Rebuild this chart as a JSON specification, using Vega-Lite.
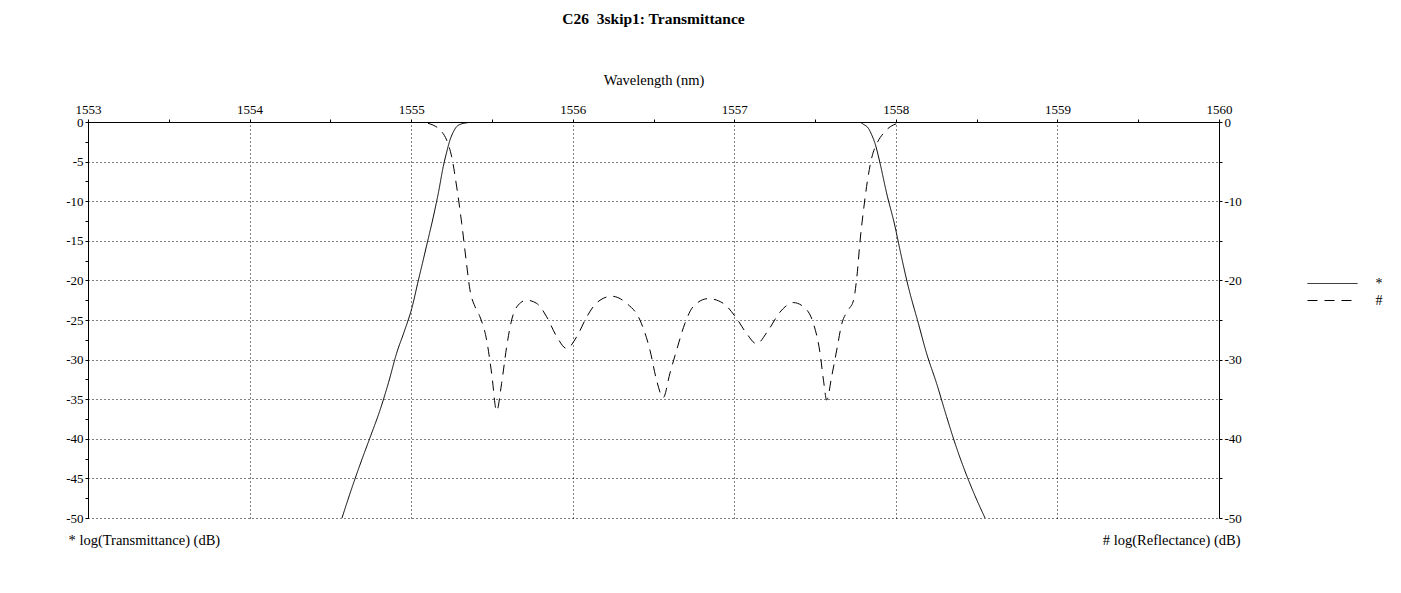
{
  "$schema": "https://vega.github.io/schema/vega-lite/v6.json",
  "width": 1131,
  "height": 396,
  "autosize": {"type": "none"},
  "padding": {"left": 88, "top": 122, "right": 182, "bottom": 75},
  "background": "white",
  "title": {"text": "C26\u00a0 3skip1: Transmittance", "font": "Liberation Serif", "fontSize": 15.5, "fontWeight": "bold", "color": "black", "anchor": "middle", "offset": 45},
  "config": {
    "font": "Liberation Serif",
    "view": {"stroke": null},
    "axis": {"domainColor": "black", "tickColor": "black", "labelColor": "black", "titleColor": "black", "labelFont": "Liberation Serif", "titleFont": "Liberation Serif", "labelFontSize": 13, "titleFontSize": 14.5, "titleFontWeight": "normal", "labelOverlap": false, "labelFlush": false, "labelBound": false, "gridColor": "black", "gridDash": [1, 3], "gridWidth": 1, "tickSize": 3}
  },
  "datasets": {
    "T": [
      {"wl": 1554.572, "db": -50, "s": "*"},
      {"wl": 1554.62, "db": -47.0, "s": "*"},
      {"wl": 1554.683, "db": -43.3, "s": "*"},
      {"wl": 1554.75, "db": -39.6, "s": "*"},
      {"wl": 1554.807, "db": -36.4, "s": "*"},
      {"wl": 1554.86, "db": -32.9, "s": "*"},
      {"wl": 1554.91, "db": -29.2, "s": "*"},
      {"wl": 1554.96, "db": -26.3, "s": "*"},
      {"wl": 1555.007, "db": -23.3, "s": "*"},
      {"wl": 1555.04, "db": -20.4, "s": "*"},
      {"wl": 1555.075, "db": -17.4, "s": "*"},
      {"wl": 1555.105, "db": -14.8, "s": "*"},
      {"wl": 1555.137, "db": -12.0, "s": "*"},
      {"wl": 1555.17, "db": -8.8, "s": "*"},
      {"wl": 1555.199, "db": -5.6, "s": "*"},
      {"wl": 1555.22, "db": -3.8, "s": "*"},
      {"wl": 1555.24, "db": -2.3, "s": "*"},
      {"wl": 1555.26, "db": -1.3, "s": "*"},
      {"wl": 1555.281, "db": -0.6, "s": "*"},
      {"wl": 1555.31, "db": -0.25, "s": "*"},
      {"wl": 1555.343, "db": -0.1, "s": "*"},
      {"wl": 1555.4, "db": 0, "s": "*"},
      {"wl": 1556.0, "db": 0, "s": "*"},
      {"wl": 1557.0, "db": 0, "s": "*"},
      {"wl": 1557.7, "db": 0, "s": "*"},
      {"wl": 1557.778, "db": -0.05, "s": "*"},
      {"wl": 1557.8, "db": -0.3, "s": "*"},
      {"wl": 1557.83, "db": -0.8, "s": "*"},
      {"wl": 1557.85, "db": -1.6, "s": "*"},
      {"wl": 1557.871, "db": -2.7, "s": "*"},
      {"wl": 1557.902, "db": -5.2, "s": "*"},
      {"wl": 1557.943, "db": -9.0, "s": "*"},
      {"wl": 1557.995, "db": -13.2, "s": "*"},
      {"wl": 1558.026, "db": -16.2, "s": "*"},
      {"wl": 1558.077, "db": -20.8, "s": "*"},
      {"wl": 1558.139, "db": -25.4, "s": "*"},
      {"wl": 1558.19, "db": -29.2, "s": "*"},
      {"wl": 1558.252, "db": -33.0, "s": "*"},
      {"wl": 1558.314, "db": -37.2, "s": "*"},
      {"wl": 1558.37, "db": -40.8, "s": "*"},
      {"wl": 1558.43, "db": -44.2, "s": "*"},
      {"wl": 1558.49, "db": -47.2, "s": "*"},
      {"wl": 1558.552, "db": -50, "s": "*"}
    ],
    "R": [
      {"wl": 1555.0, "db": 0, "s": "#"},
      {"wl": 1555.055, "db": -0.02, "s": "#"},
      {"wl": 1555.1, "db": -0.15, "s": "#"},
      {"wl": 1555.137, "db": -0.4, "s": "#"},
      {"wl": 1555.179, "db": -1.0, "s": "#"},
      {"wl": 1555.22, "db": -2.3, "s": "#"},
      {"wl": 1555.251, "db": -4.4, "s": "#"},
      {"wl": 1555.282, "db": -8.2, "s": "#"},
      {"wl": 1555.313, "db": -12.8, "s": "#"},
      {"wl": 1555.34, "db": -17.4, "s": "#"},
      {"wl": 1555.364, "db": -21.2, "s": "#"},
      {"wl": 1555.395, "db": -23.3, "s": "#"},
      {"wl": 1555.426, "db": -24.6, "s": "#"},
      {"wl": 1555.467, "db": -27.5, "s": "#"},
      {"wl": 1555.498, "db": -31.7, "s": "#"},
      {"wl": 1555.529, "db": -36.5, "s": "#"},
      {"wl": 1555.56, "db": -33.0, "s": "#"},
      {"wl": 1555.591, "db": -28.4, "s": "#"},
      {"wl": 1555.622, "db": -25.0, "s": "#"},
      {"wl": 1555.663, "db": -23.1, "s": "#"},
      {"wl": 1555.715, "db": -22.5, "s": "#"},
      {"wl": 1555.777, "db": -22.9, "s": "#"},
      {"wl": 1555.839, "db": -24.6, "s": "#"},
      {"wl": 1555.901, "db": -27.1, "s": "#"},
      {"wl": 1555.963, "db": -28.6, "s": "#"},
      {"wl": 1556.025, "db": -27.1, "s": "#"},
      {"wl": 1556.087, "db": -24.6, "s": "#"},
      {"wl": 1556.128, "db": -23.3, "s": "#"},
      {"wl": 1556.169, "db": -22.5, "s": "#"},
      {"wl": 1556.241, "db": -22.0, "s": "#"},
      {"wl": 1556.334, "db": -22.9, "s": "#"},
      {"wl": 1556.416, "db": -25.0, "s": "#"},
      {"wl": 1556.478, "db": -28.8, "s": "#"},
      {"wl": 1556.519, "db": -32.6, "s": "#"},
      {"wl": 1556.56, "db": -34.8, "s": "#"},
      {"wl": 1556.602, "db": -31.7, "s": "#"},
      {"wl": 1556.643, "db": -28.8, "s": "#"},
      {"wl": 1556.695, "db": -25.4, "s": "#"},
      {"wl": 1556.746, "db": -23.3, "s": "#"},
      {"wl": 1556.839, "db": -22.3, "s": "#"},
      {"wl": 1556.932, "db": -22.9, "s": "#"},
      {"wl": 1557.014, "db": -24.8, "s": "#"},
      {"wl": 1557.076, "db": -26.7, "s": "#"},
      {"wl": 1557.138, "db": -28.0, "s": "#"},
      {"wl": 1557.21, "db": -26.3, "s": "#"},
      {"wl": 1557.283, "db": -24.0, "s": "#"},
      {"wl": 1557.365, "db": -22.8, "s": "#"},
      {"wl": 1557.438, "db": -23.5, "s": "#"},
      {"wl": 1557.489, "db": -25.4, "s": "#"},
      {"wl": 1557.531, "db": -29.2, "s": "#"},
      {"wl": 1557.552, "db": -32.6, "s": "#"},
      {"wl": 1557.572, "db": -35.1, "s": "#"},
      {"wl": 1557.603, "db": -32.1, "s": "#"},
      {"wl": 1557.634, "db": -28.8, "s": "#"},
      {"wl": 1557.665, "db": -25.5, "s": "#"},
      {"wl": 1557.707, "db": -23.7, "s": "#"},
      {"wl": 1557.738, "db": -22.5, "s": "#"},
      {"wl": 1557.759, "db": -19.5, "s": "#"},
      {"wl": 1557.779, "db": -14.9, "s": "#"},
      {"wl": 1557.8, "db": -11.1, "s": "#"},
      {"wl": 1557.825, "db": -7.3, "s": "#"},
      {"wl": 1557.852, "db": -4.4, "s": "#"},
      {"wl": 1557.883, "db": -2.7, "s": "#"},
      {"wl": 1557.924, "db": -1.4, "s": "#"},
      {"wl": 1557.965, "db": -0.6, "s": "#"},
      {"wl": 1558.006, "db": -0.2, "s": "#"},
      {"wl": 1558.057, "db": 0, "s": "#"},
      {"wl": 1558.2, "db": 0, "s": "#"}
    ]
  },
  "layer": [
    {
      "data": {"name": "T"},
      "mark": {"type": "line", "color": "black", "strokeWidth": 1, "interpolate": "monotone", "clip": true},
      "encoding": {
        "x": {"field": "wl", "type": "quantitative", "scale": {"domain": [1553, 1560], "nice": false, "zero": false},
          "axis": {"orient": "top", "title": "Wavelength (nm)", "titlePadding": 16, "labelPadding": 3,
            "values": [1553, 1553.5, 1554, 1554.5, 1555, 1555.5, 1556, 1556.5, 1557, 1557.5, 1558, 1558.5, 1559, 1559.5, 1560],
            "labelExpr": "datum.value % 1 == 0 ? '' + datum.value : ''",
            "grid": true,
            "gridOpacity": {"condition": {"test": "datum.value % 1 == 0", "value": 1}, "value": 0}}},
        "y": {"field": "db", "type": "quantitative", "scale": {"domain": [-50, 0], "nice": false, "zero": false},
          "axis": {"orient": "left", "title": "* log(Transmittance) (dB)", "titleAngle": 0, "titleAlign": "left", "titleBaseline": "alphabetic", "titleX": -20, "titleY": 422, "labelPadding": 2,
            "values": [0, -2.5, -5, -7.5, -10, -12.5, -15, -17.5, -20, -22.5, -25, -27.5, -30, -32.5, -35, -37.5, -40, -42.5, -45, -47.5, -50],
            "labelExpr": "datum.value % 5 == 0 ? '' + datum.value : ''",
            "grid": true,
            "gridOpacity": {"condition": {"test": "datum.value % 5 == 0", "value": 1}, "value": 0}}},
        "strokeDash": {"field": "s", "type": "nominal", "scale": {"domain": ["*", "#"], "range": [[1, 0], [10, 7]]},
          "legend": {"title": null, "orient": "none", "legendX": 1219, "legendY": 154.5, "symbolType": "M-5,0H5", "symbolSize": 100, "symbolOffset": 18.5, "symbolStrokeWidth": 1, "symbolStrokeColor": "black", "labelOffset": 36, "labelFont": "Liberation Serif", "labelFontSize": 14, "labelColor": "black", "padding": 0, "rowPadding": 3}}
      }
    },
    {
      "data": {"name": "R"},
      "mark": {"type": "line", "color": "black", "strokeWidth": 1, "interpolate": "monotone", "clip": true},
      "encoding": {
        "x": {"field": "wl", "type": "quantitative"},
        "y": {"field": "db", "type": "quantitative",
          "axis": {"orient": "right", "title": "# log(Reflectance) (dB)", "titleAngle": 0, "titleAlign": "right", "titleBaseline": "alphabetic", "titleX": 21, "titleY": 422, "labelPadding": 2, "grid": false,
            "values": [0, -5, -10, -15, -20, -25, -30, -35, -40, -45, -50],
            "labelExpr": "datum.value % 10 == 0 ? '' + datum.value : ''"}},
        "strokeDash": {"field": "s", "type": "nominal"}
      }
    }
  ],
  "resolve": {"axis": {"y": "independent"}}
}
